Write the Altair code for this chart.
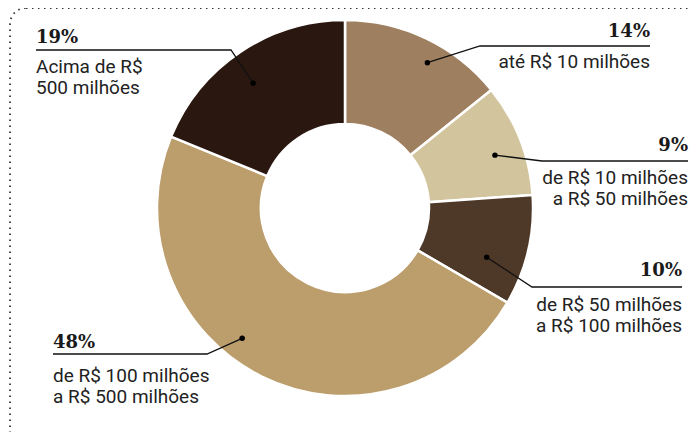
import math
import altair as alt
import pandas as pd

# ---- data ----
categories = [
    "até R$ 10 milhões",
    "de R$ 10 milhões\na R$ 50 milhões",
    "de R$ 50 milhões\na R$ 100 milhões",
    "de R$ 100 milhões\na R$ 500 milhões",
    "Acima de R$\n500 milhões",
]
pct_labels = ["14%", "9%", "10%", "48%", "19%"]
# slice shares as drawn in the picture (arc sizes measured)
slice_shares = [14.2, 9.7, 9.5, 47.8, 18.8]
colors = ["#9E7F5F", "#D2C59E", "#4E3828", "#BC9D6C", "#2A1810"]

# ---- layout (chart pixel coordinates) ----
W, H = 684, 424
CX, CY = 337, 200
R_OUT, R_IN = 188, 84
label_side = ["right", "right", "right", "left", "left"]
label_x = [642, 680, 674, 45, 28]
elbow_x = [472, 534, 524, 199, 223]
line_y = [38, 153, 279, 346, 42]
pct_y = [29, 143, 268, 340, 35]
sub_y = [60, 176, 303, 374, 65]
anchor_r = [167, 159, 150, 166, 155]
anchor_shift = [4, 2, 6, 12, -2.5]  # degrees

total = sum(slice_shares)
pie_df = pd.DataFrame({"cat": categories, "value": slice_shares, "idx": list(range(len(slice_shares)))})

# leader lines computed from slice mid-angles
seg_rows, dot_rows, txt_rows = [], [], []
cum = 0
for i, v in enumerate(slice_shares):
    mid = (cum + v / 2) / total * 360 + anchor_shift[i]
    cum += v
    a = math.radians(mid)
    dx = CX + anchor_r[i] * math.sin(a)
    dy = CY - anchor_r[i] * math.cos(a)
    dot_rows.append({"x": dx, "y": dy})
    seg_rows += [
        {"id": i, "o": 0, "x": dx, "y": dy},
        {"id": i, "o": 1, "x": elbow_x[i], "y": line_y[i]},
        {"id": i, "o": 2, "x": label_x[i], "y": line_y[i]},
    ]
    txt_rows.append({"side": label_side[i], "x": label_x[i], "py": pct_y[i],
                     "sy": sub_y[i], "pct": pct_labels[i], "sub": categories[i]})

seg_df = pd.DataFrame(seg_rows)
dot_df = pd.DataFrame(dot_rows)
txt_df = pd.DataFrame(txt_rows)

xs = alt.Scale(domain=[0, W], range=[0, W])
ys = alt.Scale(domain=[0, H], range=[0, H])

border = alt.Chart(pd.DataFrame({"a": [0]})).mark_rect(
    fill="transparent", stroke="#333333", strokeWidth=1.8,
    strokeDash=[1.5, 4.5], cornerRadius=16,
).encode(x=alt.value(2), x2=alt.value(740), y=alt.value(0), y2=alt.value(480))

pie = alt.Chart(pie_df).mark_arc(
    outerRadius=R_OUT, innerRadius=R_IN, stroke="white", strokeWidth=2.5
).encode(
    theta=alt.Theta("value:Q", stack=True),
    order=alt.Order("idx:Q"),
    color=alt.Color("cat:N", scale=alt.Scale(domain=categories, range=colors), legend=None),
    x=alt.value(CX), y=alt.value(CY),
)

leaders = alt.Chart(seg_df).mark_line(color="#111111", strokeWidth=1.3).encode(
    x=alt.X("x:Q", scale=xs, axis=None),
    y=alt.Y("y:Q", scale=ys, axis=None),
    detail="id:N",
    order="o:Q",
)

dots = alt.Chart(dot_df).mark_circle(color="#000000", size=30, opacity=1).encode(
    x=alt.X("x:Q", scale=xs, axis=None),
    y=alt.Y("y:Q", scale=ys, axis=None),
)

def texts(side):
    base = alt.Chart(txt_df).transform_filter(alt.datum.side == side)
    pct = base.mark_text(
        align=side, baseline="alphabetic", font="DejaVu Serif",
        fontWeight="bold", fontSize=18, color="#1a1a1a",
    ).encode(x=alt.X("x:Q", scale=xs, axis=None), y=alt.Y("py:Q", scale=ys, axis=None), text="pct:N")
    sub = base.mark_text(
        align=side, baseline="alphabetic", font="Roboto", fontSize=19,
        color="#222222", lineBreak="\n", lineHeight=21,
    ).encode(x=alt.X("x:Q", scale=xs, axis=None), y=alt.Y("sy:Q", scale=ys, axis=None), text="sub:N")
    return pct + sub

chart = alt.layer(border, pie, leaders, dots, texts("right"), texts("left")).properties(
    width=W, height=H, padding=0, autosize=alt.AutoSizeParams(type="none"),
).configure_view(stroke=None)

chart.save("out.html", embed_options={"renderer": "svg", "actions": False})
